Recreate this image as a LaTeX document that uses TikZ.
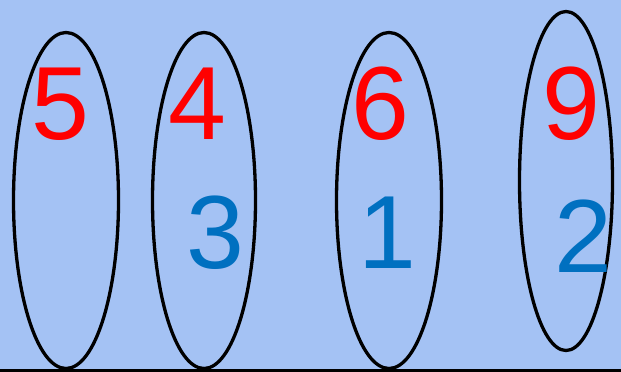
\documentclass[tikz,border=0pt]{standalone}
\usepackage{fontspec}
\setmainfont{Liberation Sans}
\usetikzlibrary{shapes.geometric}
\definecolor{bgblue}{HTML}{A4C2F4}
\definecolor{numred}{HTML}{FF0000}
\definecolor{numblue}{HTML}{0070C0}
\begin{document}
\begin{tikzpicture}[x=1pt,y=-1pt,
  oval/.style={draw=black,line width=3.3pt,ellipse,inner sep=0pt,minimum width=#1},
  rednum/.style={text=numred,font=\fontsize{104}{104}\selectfont,inner sep=0pt,anchor=center},
  bluenum/.style={text=numblue,font=\fontsize{104}{104}\selectfont,inner sep=0pt,anchor=center}]
\fill[bgblue] (0,0) rectangle (621,372);
\useasboundingbox (0,0) rectangle (621,372);
\node[oval=105pt,minimum height=336pt] (e1) at (66,200.5) {};
\node[oval=103pt,minimum height=336pt] (e2) at (204,200.5) {};
\node[oval=105pt,minimum height=336pt] (e3) at (389,200.5) {};
\node[oval=93pt,minimum height=339pt] (e4) at (566,181) {};
\node[rednum] (n5) at (60,104) {5};
\node[rednum] (n4) at (197,104) {4};
\node[rednum] (n6) at (380,104) {6};
\node[rednum] (n9) at (571,104) {9};
\node[bluenum] (n3) at (215,233) {3};
\node[bluenum] (n1) at (387,233) {1};
\node[bluenum] (n2) at (583,236) {2};
\coordinate (bl) at (0,370.5);
\coordinate (br) at (621,370.5);
\draw[line width=3.5pt] (bl) -- (br);
\end{tikzpicture}
\end{document}
